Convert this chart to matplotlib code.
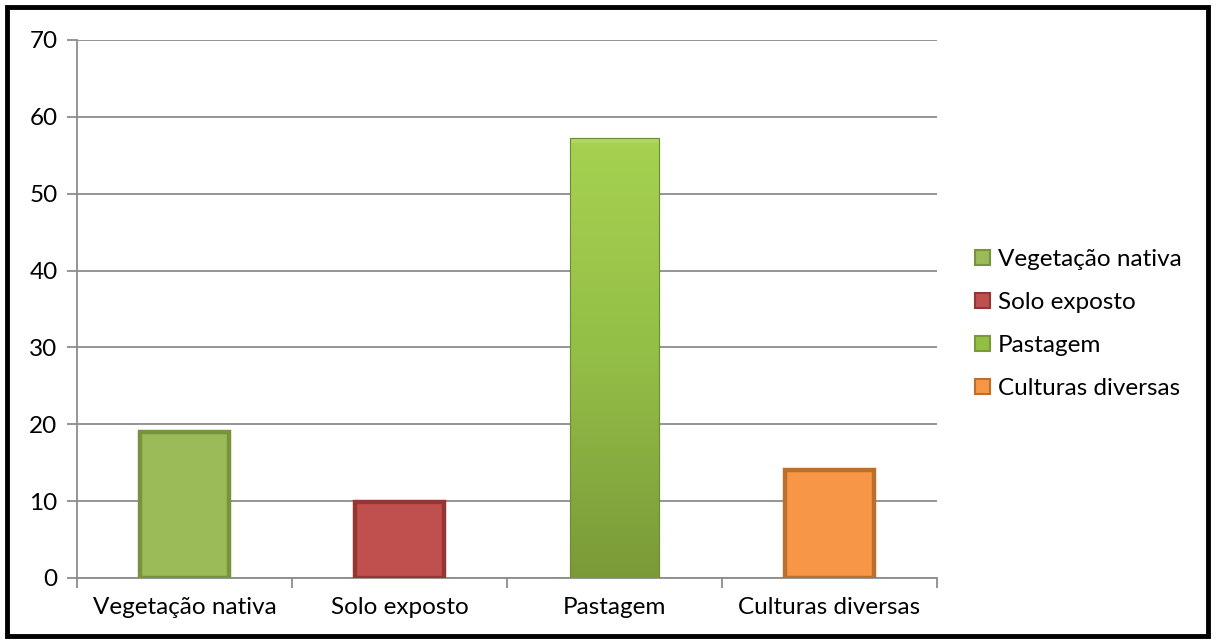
import matplotlib
matplotlib.use("Agg")
import matplotlib.pyplot as plt
import numpy as np
from matplotlib.patches import Patch, Rectangle
from matplotlib.colors import LinearSegmentedColormap

categories = ["Vegetação nativa", "Solo exposto", "Pastagem", "Culturas diversas"]
values = [19.0, 9.9, 57.3, 14.0]
yticks = [0, 10, 20, 30, 40, 50, 60, 70]

faces = ["#9BBB59", "#C0504D", "#93BF45", "#F79646"]
edges = ["#77933C", "#943634", "#7A9A3A", "#B9702F"]
lws = [3.2, 3.2, 0.8, 3.2]

plt.rcParams['font.family'] = ['Lato', 'DejaVu Sans']
FS = 17.5

fig = plt.figure(figsize=(12.16, 6.44), dpi=100)
ax = fig.add_axes([77/1216, 1-578/644, (937-77)/1216, (578-40)/644])

x = np.arange(len(categories))
bars = ax.bar(x, values, width=0.41, color=faces, edgecolor=edges, linewidth=lws, zorder=3)

# gradient for Pastagem
pb = bars[2]
cmap = LinearSegmentedColormap.from_list("g", ["#7A9A38", "#93BE47", "#A6D250"])
grad = np.linspace(0, 1, 256).reshape(-1, 1)
im = ax.imshow(grad, cmap=cmap, aspect='auto', origin='lower',
               extent=[pb.get_x(), pb.get_x() + pb.get_width(), 0, pb.get_height()],
               zorder=3.5)
im.set_clip_path(pb)
ax.add_patch(Rectangle((pb.get_x(), pb.get_height() - 0.7), pb.get_width(), 0.7,
                       facecolor="#B4DA65", edgecolor="none", alpha=0.8, zorder=3.6))
ax.add_patch(Rectangle((pb.get_x(), 0), pb.get_width(), pb.get_height(),
                       facecolor="none", edgecolor="#6E8C32", linewidth=0.8, zorder=3.7))

ax.set_xlim(-0.5, len(categories) - 0.5)
ax.set_ylim(0, 70)
ax.set_yticks(yticks)
ax.yaxis.grid(True, color="#8C8C8C", linewidth=1.3, zorder=0)
ax.set_axisbelow(True)

ax.set_xticks(np.arange(-0.5, len(categories), 1.0))
ax.set_xticklabels([])
ax.set_xticks(x, minor=True)
ax.set_xticklabels(categories, minor=True)
ax.tick_params(axis='x', which='major', length=7, width=1.3, color="#8C8C8C", direction='out')
ax.tick_params(axis='x', which='minor', length=0, pad=14, labelsize=FS)
ax.tick_params(axis='y', length=7, width=1.3, color="#8C8C8C", labelsize=FS, pad=7)

for s in ['top', 'right']:
    ax.spines[s].set_visible(False)
for s in ['left', 'bottom']:
    ax.spines[s].set_color("#8C8C8C")
    ax.spines[s].set_linewidth(1.3)

handles = [Patch(facecolor=f, edgecolor=e, linewidth=1.5) for f, e in zip(faces, edges)]
fig.legend(handles, categories, loc='center left', bbox_to_anchor=(975/1216, 1-324/644),
           frameon=False, fontsize=FS, handlelength=0.6, handleheight=0.6,
           handletextpad=0.35, labelspacing=0.9, borderpad=0, borderaxespad=0)

fig.add_artist(Rectangle((7/1216, 1-636/644), (1208-7)/1216, (636-7)/644,
                         transform=fig.transFigure, fill=False, edgecolor="black",
                         linewidth=3.5))

fig.savefig("out.png", dpi=100)
